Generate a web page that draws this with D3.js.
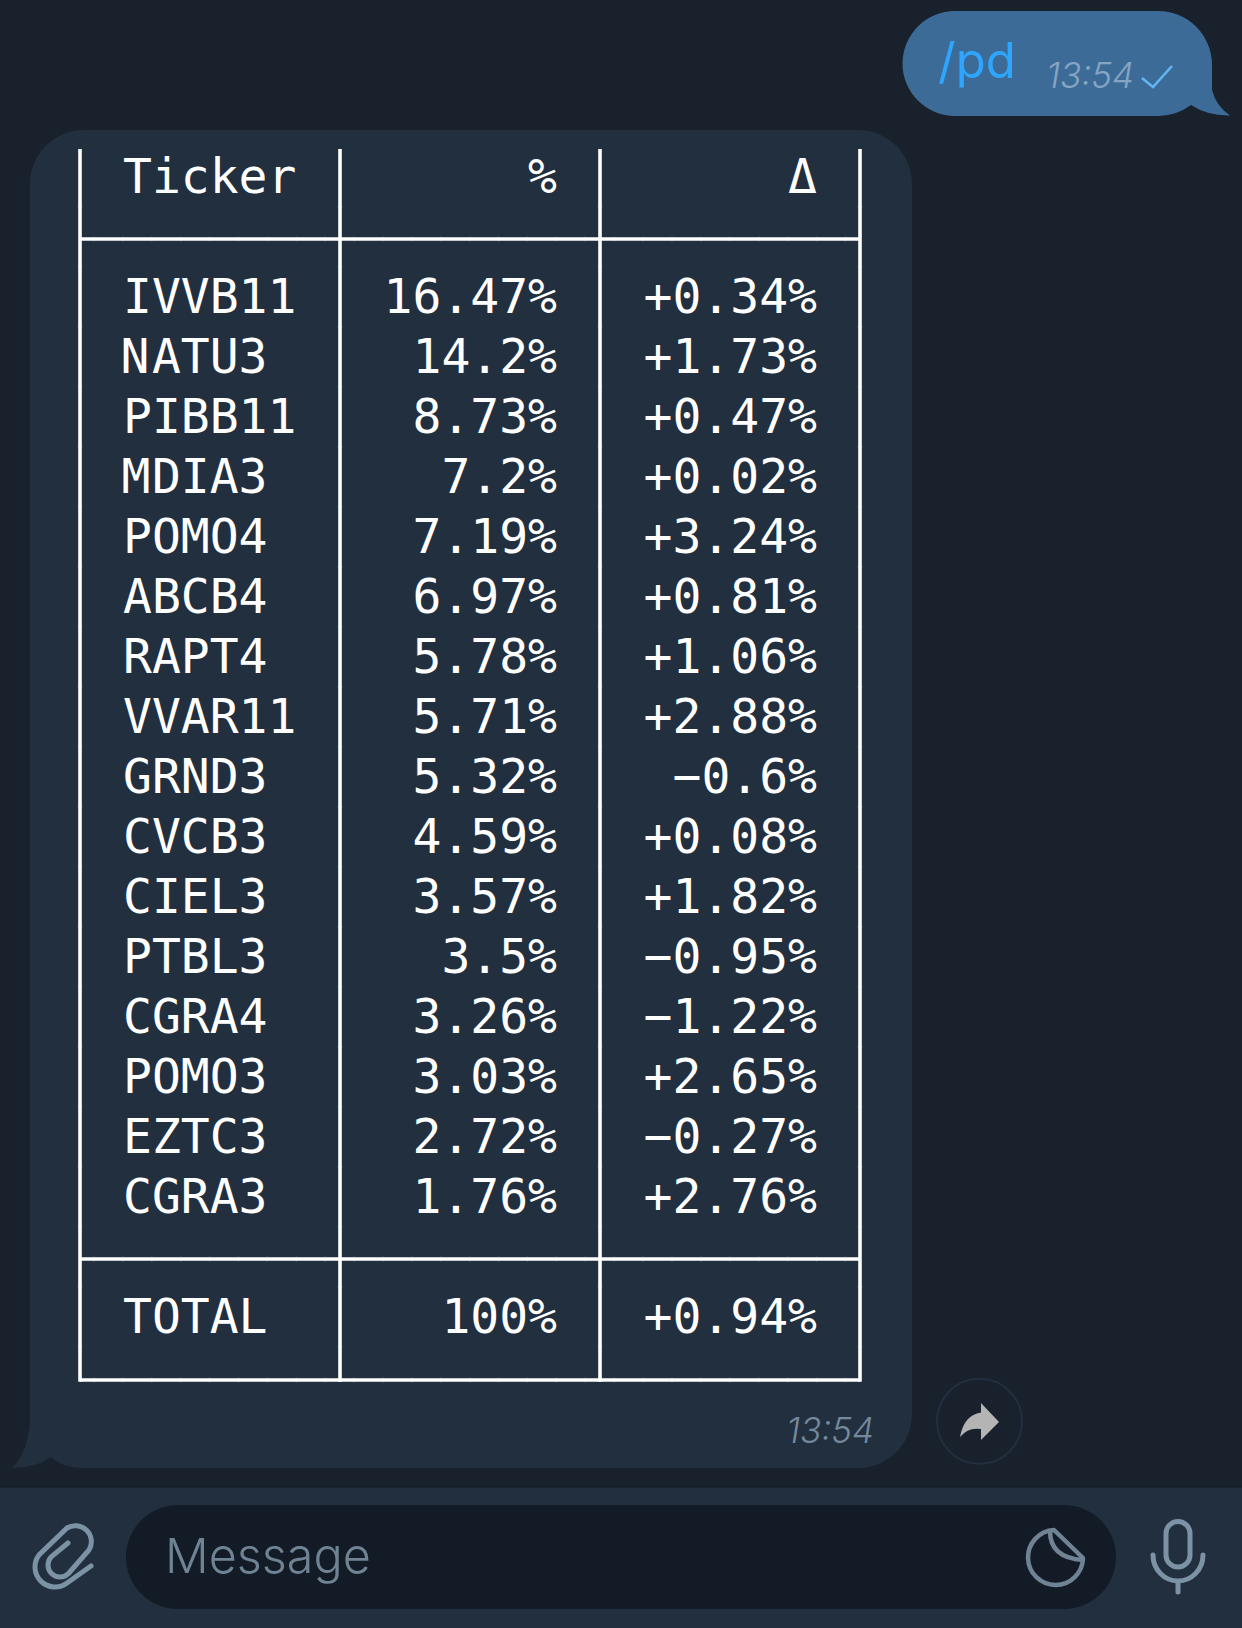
<!DOCTYPE html>
<html>
<head>
<meta charset="utf-8">
<script src="https://cdn.jsdelivr.net/npm/d3@7"></script>
<style>
  html, body { margin: 0; padding: 0; background: #19212d; }
  svg { display: block; }
  .mono { font-family: "DejaVu Sans Mono", monospace; font-size: 48px; fill: #ffffff; }
  .ui { font-family: "Inter", "Liberation Sans", sans-serif; font-weight: 300; }
</style>
</head>
<body>
<div id="chart"></div>
<script>
const width = 1242, height = 1628;

// table contents
const tickers = ["IVVB11","NATU3","PIBB11","MDIA3","POMO4","ABCB4","RAPT4","VVAR11","GRND3","CVCB3","CIEL3","PTBL3","CGRA4","POMO3","EZTC3","CGRA3"];
const weights = [16.47,14.2,8.73,7.2,7.19,6.97,5.78,5.71,5.32,4.59,3.57,3.5,3.26,3.03,2.72,1.76];
const deltas = [0.34,1.73,0.47,0.02,3.24,0.81,1.06,2.88,-0.6,0.08,1.82,-0.95,-1.22,2.65,-0.27,2.76];
const headers = ["Ticker","%","Δ"];
const total = ["TOTAL", 100, 0.94];

const fmtWeight = v => v + "%";
const fmtDelta = v => (v < 0 ? "\u2212" + (-v) : "+" + v) + "%";

const svg = d3.select("#chart").append("svg")
  .attr("width", width).attr("height", height);

const colEdges = [80, 340, 600, 860];
const tableTop = 149, headLine = 239, footLine = 1259, tableBottom = 1380;

// row positions, band per body row
const y = d3.scaleBand().domain(d3.range(tickers.length)).range([268, 1228]);
const baseline = i => y(i) + y.bandwidth() / 2 + 15;

// ------------ chat background and bubbles ----------------- //

svg.append("rect").attr("width", width).attr("height", height).attr("fill", "#19212d");

// outgoing bubble
svg.append("path")
  .attr("d", "M955,11 H1158 A54,54 0 0 1 1212,65 V90 Q1216,106 1230,115.5 Q1208,116 1191,105 Q1176,116 1158,116 H955 A52.5,52.5 0 0 1 955,11 Z")
  .attr("fill", "#3d6b98");

// incoming bubble
svg.append("path")
  .attr("d", "M84,130 H858 A54,54 0 0 1 912,184 V1414 A54,54 0 0 1 858,1468 H84 Q62,1468 51,1457 Q36,1468 12,1468 Q30,1450 30,1414 V184 A54,54 0 0 1 84,130 Z")
  .attr("fill", "#222f3f");

// ------------ table lines ----------------- //

const lines = svg.append("g").attr("stroke", "#ffffff").attr("stroke-width", 3.6);
lines.selectAll(".v").data(colEdges).join("line")
  .attr("x1", d => d).attr("x2", d => d)
  .attr("y1", tableTop).attr("y2", tableBottom + 1.8);
lines.selectAll(".h").data([headLine, footLine, tableBottom]).join("line")
  .attr("x1", colEdges[0]).attr("x2", colEdges[3])
  .attr("y1", d => d).attr("y2", d => d);

// small joints where the box drawing characters meet
const joints = svg.append("g").attr("fill", "#ffffff").attr("opacity", 0.12);
[headLine, footLine, tableBottom].forEach(ly => {
  joints.selectAll(null).data(d3.range(94, colEdges[3], 28.9)).join("rect")
    .attr("x", d => d - 0.75).attr("y", ly - 2.8).attr("width", 1.5).attr("height", 5.6);
});
colEdges.forEach(lx => {
  joints.selectAll(null).data(d3.range(206.7, tableBottom, 60)).join("rect")
    .attr("x", lx - 2.8).attr("y", d => d - 0.75).attr("width", 5.6).attr("height", 1.5);
});

// ------------ table text ----------------- //

const col1 = 123, col2 = 557, col3 = 817;

svg.append("text").attr("class", "mono").attr("x", col1).attr("y", 193).text(headers[0]);
svg.append("text").attr("class", "mono").attr("x", col2).attr("y", 193).attr("text-anchor", "end").text(headers[1]);
svg.append("text").attr("class", "mono").attr("x", col3).attr("y", 193).attr("text-anchor", "end").text(headers[2]);

// N and M sit a little wider in the original font
const firstGlyph = {N: "-2.5 2.5", M: "-1.5 1.5"};
svg.selectAll(".ticker").data(tickers).join("text")
  .attr("class", "mono ticker").attr("x", col1).attr("y", (d, i) => baseline(i))
  .attr("dx", d => firstGlyph[d[0]] || null).text(d => d);
svg.selectAll(".weight").data(weights).join("text")
  .attr("class", "mono weight").attr("x", col2).attr("y", (d, i) => baseline(i))
  .attr("text-anchor", "end").text(fmtWeight);
svg.selectAll(".delta").data(deltas).join("text")
  .attr("class", "mono delta").attr("x", col3).attr("y", (d, i) => baseline(i))
  .attr("text-anchor", "end").text(fmtDelta);

svg.append("text").attr("class", "mono").attr("x", col1).attr("y", 1333).text(total[0]);
svg.append("text").attr("class", "mono").attr("x", col2).attr("y", 1333).attr("text-anchor", "end").text(fmtWeight(total[1]));
svg.append("text").attr("class", "mono").attr("x", col3).attr("y", 1333).attr("text-anchor", "end").text(fmtDelta(total[2]));

// ------------ message meta ----------------- //

svg.append("text").attr("class", "ui").attr("x", 938).attr("y", 78)
  .attr("font-size", 49).style("font-weight", 400).attr("fill", "#2ea6ff").text("/pd");
svg.append("text").attr("class", "ui").attr("x", 1134).attr("y", 88)
  .attr("text-anchor", "end").attr("font-size", 35).attr("font-style", "italic")
  .attr("fill", "#86a5c2").text("13:54");
svg.append("path").attr("d", "M1142,78 L1153,87 L1172,66")
  .attr("fill", "none").attr("stroke", "#5fb6f2").attr("stroke-width", 2.6);
svg.append("text").attr("class", "ui").attr("x", 874).attr("y", 1443)
  .attr("text-anchor", "end").attr("font-size", 35).attr("font-style", "italic")
  .attr("fill", "#74899c").text("13:54");

// forward button
svg.append("circle").attr("cx", 979.5).attr("cy", 1421.3).attr("r", 42.5)
  .attr("fill", "none").attr("stroke", "#222f3f").attr("stroke-width", 2);
svg.append("path")
  .attr("d", "M981,1403 L999,1422 L981,1440 V1429 Q968,1427 960,1437 Q964,1415 981,1412.5 Z")
  .attr("fill", "#b4b4b4");

// ------------ input bar ----------------- //

svg.append("rect").attr("y", 1487).attr("width", width).attr("height", height - 1487).attr("fill", "#222f3f");
svg.append("line").attr("x1", 0).attr("x2", width).attr("y1", 1487).attr("y2", 1487)
  .attr("stroke", "#131b26").attr("stroke-width", 1);
svg.append("rect").attr("x", 126).attr("y", 1505).attr("width", 990).attr("height", 104).attr("rx", 52)
  .attr("fill", "#131b26");
svg.append("text").attr("class", "ui").attr("x", 165).attr("y", 1573)
  .attr("font-size", 48.5).attr("fill", "#6f8394").text("Message");

// paperclip
svg.append("path")
  .attr("d", "M91,1566 L67,1583 A20,20 0 0 1 39,1555 L67,1528 A16,16 0 0 1 89,1550 L68.5,1573.5 A12,12 0 0 1 51.5,1556.5 L68,1543")
  .attr("fill", "none").attr("stroke", "#7c92a5").attr("stroke-width", 5).attr("stroke-linecap", "round");

// sticker icon
svg.append("path")
  .attr("d", "M1054,1530 A27.5,27.5 0 1 0 1083,1558 Z")
  .attr("fill", "none").attr("stroke", "#6f8394").attr("stroke-width", 4.5).attr("stroke-linejoin", "round");
svg.append("path")
  .attr("d", "M1050,1531 Q1050,1558 1083,1560")
  .attr("fill", "none").attr("stroke", "#6f8394").attr("stroke-width", 4.5);

// mic icon
svg.append("rect").attr("x", 1166).attr("y", 1521.5).attr("width", 24).attr("height", 45.5).attr("rx", 12)
  .attr("fill", "none").attr("stroke", "#7c92a5").attr("stroke-width", 5);
svg.append("path").attr("d", "M1153,1555 A25,26 0 0 0 1203,1555 M1178,1581 V1592")
  .attr("fill", "none").attr("stroke", "#7c92a5").attr("stroke-width", 5).attr("stroke-linecap", "round");
</script>
</body>
</html>
